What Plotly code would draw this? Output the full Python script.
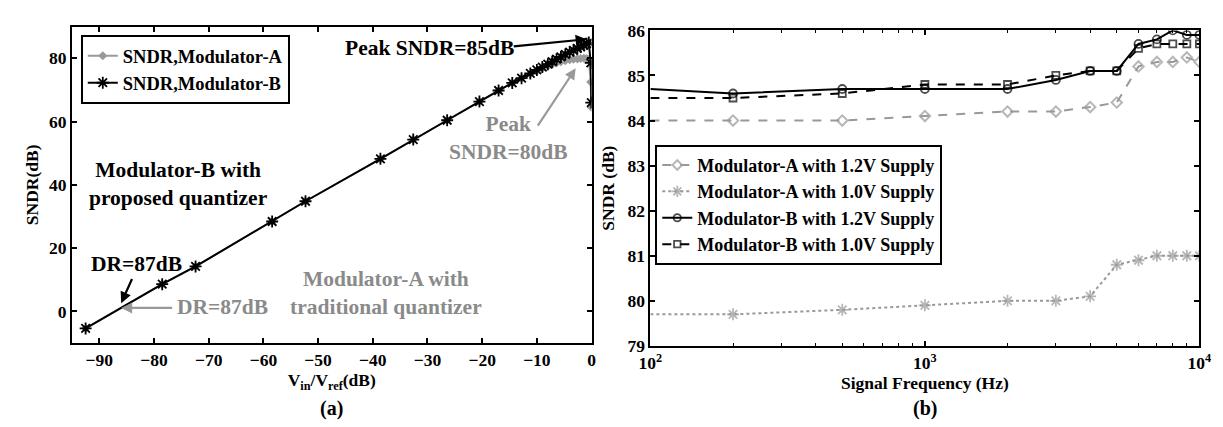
import plotly.graph_objects as go

# ---------------- Data: panel (a) ----------------
vin_db = [-92.5, -78.5, -72.4, -58.4, -52.3, -38.6, -32.6, -26.4, -20.5, -17.0,
          -14.5, -12.8, -11.2, -10.0, -9.0, -8.0, -7.2, -6.4, -5.6, -4.8,
          -4.0, -3.3, -2.6, -2.0, -1.4, -0.9, -0.5, -0.15, -0.05]
sndr_mod_b = [-5.4, 8.6, 14.2, 28.4, 34.8, 48.2, 54.3, 60.4, 66.3, 69.8,
              72.2, 73.7, 75.2, 76.3, 77.2, 78.1, 78.9, 79.7, 80.4, 81.2,
              81.9, 82.5, 83.1, 83.6, 84.1, 84.6, 85.0, 78.5, 66.0]
sndr_mod_a = [-5.4, 8.6, 14.2, 28.4, 34.8, 48.2, 54.3, 60.4, 66.3, 69.8,
              72.2, 73.7, 75.0, 76.0, 76.8, 77.5, 78.0, 78.5, 78.9, 79.2,
              79.5, 79.7, 79.8, 79.9, 80.0, 79.9, 79.6, 72.5, 64.5]
a_xticks = [-90, -80, -70, -60, -50, -40, -30, -20, -10, 0]
a_yticks = [0, 20, 40, 60, 80]

# ---------------- Data: panel (b) ----------------
freq_hz = [100, 200, 500, 1000, 2000, 3000, 4000, 5000, 6000, 7000, 8000, 9000, 10000]
mod_a_12v = [84.0, 84.0, 84.0, 84.1, 84.2, 84.2, 84.3, 84.4, 85.2, 85.3, 85.3, 85.4, 85.3]
mod_a_10v = [79.7, 79.7, 79.8, 79.9, 80.0, 80.0, 80.1, 80.8, 80.9, 81.0, 81.0, 81.0, 81.0]
mod_b_12v = [84.7, 84.6, 84.7, 84.7, 84.7, 84.9, 85.1, 85.1, 85.7, 85.8, 86.0, 85.9, 85.9]
mod_b_10v = [84.5, 84.5, 84.6, 84.8, 84.8, 85.0, 85.1, 85.1, 85.6, 85.7, 85.7, 85.7, 85.7]
b_xticks = [100, 1000, 10000]
b_xticktext = ["10<sup>2</sup>", "10<sup>3</sup>", "10<sup>4</sup>"]
b_minor = [200, 300, 400, 500, 600, 700, 800, 900,
           2000, 3000, 4000, 5000, 6000, 7000, 8000, 9000]
b_yticks = [79, 80, 81, 82, 83, 84, 85, 86]

GRAY = "#999999"
GRAY_TXT = "#8a8a8a"
FAM = "Liberation Serif"

W, H = 1223, 427


def sizes(n, s):
    # marker at the left axis edge is hidden in the reference
    return [0] + [s] * (n - 1)


fig = go.Figure()

# panel (a)
fig.add_trace(go.Scatter(x=vin_db, y=sndr_mod_a, mode="lines+markers",
                         name="SNDR,Modulator-A", legend="legend",
                         line=dict(color=GRAY, width=2),
                         marker=dict(symbol="diamond", size=7, color=GRAY),
                         xaxis="x", yaxis="y"))
fig.add_trace(go.Scatter(x=vin_db, y=sndr_mod_b, mode="lines+markers",
                         name="SNDR,Modulator-B", legend="legend",
                         line=dict(color="black", width=2),
                         marker=dict(symbol="asterisk-open", size=10, color="black",
                                     line=dict(width=1.8, color="black")),
                         xaxis="x", yaxis="y"))

# panel (b)
n = len(freq_hz)
fig.add_trace(go.Scatter(x=freq_hz, y=mod_a_12v, mode="lines+markers",
                         name="Modulator-A with 1.2V Supply", legend="legend2",
                         line=dict(color=GRAY, width=2, dash="dash"),
                         marker=dict(symbol="diamond-open", size=sizes(n, 8), color=GRAY,
                                     line=dict(width=2, color=GRAY)),
                         xaxis="x2", yaxis="y2"))
fig.add_trace(go.Scatter(x=freq_hz, y=mod_a_10v, mode="lines+markers",
                         name="Modulator-A with 1.0V Supply", legend="legend2",
                         line=dict(color=GRAY, width=2, dash="dot"),
                         marker=dict(symbol="asterisk-open", size=sizes(n, 10), color=GRAY,
                                     line=dict(width=1.8, color=GRAY)),
                         xaxis="x2", yaxis="y2"))
fig.add_trace(go.Scatter(x=freq_hz, y=mod_b_12v, mode="lines+markers",
                         name="Modulator-B with 1.2V Supply", legend="legend2",
                         line=dict(color="black", width=2),
                         marker=dict(symbol="circle-open", size=sizes(n, 8), color="black",
                                     line=dict(width=1.8, color="black")),
                         xaxis="x2", yaxis="y2"))
fig.add_trace(go.Scatter(x=freq_hz, y=mod_b_10v, mode="lines+markers",
                         name="Modulator-B with 1.0V Supply", legend="legend2",
                         line=dict(color="black", width=2, dash="dash"),
                         marker=dict(symbol="square-open", size=sizes(n, 7), color="black",
                                     line=dict(width=1.8, color="black")),
                         xaxis="x2", yaxis="y2"))

tickfont = dict(family=FAM, size=17.5, color="black", weight="bold")
titlefont = dict(family=FAM, size=17.5, color="black", weight="bold")
axis_common = dict(showline=True, linecolor="black", linewidth=2, mirror="ticks",
                   ticks="inside", ticklen=5, tickwidth=1.5, tickcolor="black",
                   showgrid=False, zeroline=False, tickfont=tickfont)

fig.update_layout(
    width=W, height=H,
    margin=dict(l=0, r=0, t=0, b=0),
    paper_bgcolor="white", plot_bgcolor="white",
    font=dict(family=FAM, color="black"),
    xaxis=dict(domain=[53 / W, 583 / W], range=[-95, 0], tickvals=a_xticks,
               title=dict(text="V<sub>in</sub>/V<sub>ref</sub>(dB)", font=titlefont, standoff=0),
               anchor="y", **axis_common),
    yaxis=dict(domain=[1 - 341 / H, 1 - 9 / H], range=[-10, 90], tickvals=a_yticks,
               title=dict(text="SNDR(dB)", font=titlefont, standoff=6),
               anchor="x", **axis_common),
    xaxis2=dict(domain=[643 / W, 1203 / W], type="log", range=[2, 4],
                tickvals=b_xticks, ticktext=b_xticktext,
                minor=dict(tickvals=b_minor, ticks="inside", ticklen=3,
                           tickwidth=1, tickcolor="black", showgrid=False),
                title=dict(text="Signal Frequency (Hz)", font=titlefont, standoff=2),
                anchor="y2", **axis_common),
    yaxis2=dict(domain=[1 - 344 / H, 1 - 13 / H], range=[79, 86], tickvals=b_yticks,
                title=dict(text="SNDR (dB)", font=titlefont, standoff=8),
                anchor="x2", **axis_common),
    legend=dict(x=62 / W, y=1 - 18 / H, xanchor="left", yanchor="top",
                bgcolor="white", bordercolor="black", borderwidth=2,
                font=dict(family=FAM, size=18.5, color="black", weight="bold"),
                itemwidth=30, tracegroupgap=0),
    legend2=dict(x=648 / W, y=1 - 133 / H, xanchor="left", yanchor="top",
                 bgcolor="white", bordercolor="black", borderwidth=2,
                 font=dict(family=FAM, size=18, color="black", weight="bold"),
                 itemwidth=30, tracegroupgap=0),
    showlegend=True,
)

ann_font_k = dict(family=FAM, size=21.5, color="black", weight="bold")
ann_font_g = dict(family=FAM, size=21.5, color=GRAY_TXT, weight="bold")

texts = [
    dict(text="Peak SNDR=85dB", x=-29.6, y=83.1, font=ann_font_k),
    dict(text="Peak<br>SNDR=80dB", x=-15.2, y=54.7, font=ann_font_g),
    dict(text="Modulator-B with<br>proposed quantizer", x=-75.6, y=40.4, font=ann_font_k),
    dict(text="Modulator-A with<br>traditional quantizer", x=-37.6, y=5.9, font=ann_font_g),
    dict(text="DR=87dB", x=-83.2, y=14.9, font=ann_font_k),
    dict(text="DR=87dB", x=-67.4, y=1.4, font=ann_font_g),
]
for t in texts:
    fig.add_annotation(xref="x", yref="y", showarrow=False, xanchor="center",
                       yanchor="middle", align="center", **t)

arrows = [
    # (tail_x, tail_y, head_x, head_y, color)
    (-14.5, 83.7, -0.9, 86.0, "black"),
    (-10.0, 58.2, -2.9, 76.8, GRAY),
    (-83.9, 10.7, -86.0, 2.6, "black"),
    (-76.4, 1.1, -86.0, 1.1, GRAY),
]
for tx, ty, hx, hy, c in arrows:
    fig.add_annotation(xref="x", yref="y", axref="x", ayref="y",
                       x=hx, y=hy, ax=tx, ay=ty, text="", showarrow=True,
                       arrowhead=2, arrowsize=1, arrowwidth=2.2, arrowcolor=c,
                       standoff=0, startstandoff=0)

lab_font = dict(family=FAM, size=20, color="black", weight="bold")
fig.add_annotation(xref="paper", yref="paper", x=318 / W, y=1 - 410 / H,
                   xanchor="center", yanchor="middle",
                   text="(a)", showarrow=False, font=lab_font)
fig.add_annotation(xref="paper", yref="paper", x=923 / W, y=1 - 410 / H,
                   xanchor="center", yanchor="middle",
                   text="(b)", showarrow=False, font=lab_font)

fig.write_html("out.html")
